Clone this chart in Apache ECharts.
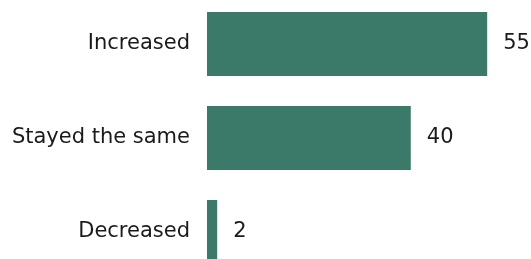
<!DOCTYPE html>
<html>
<head>
<meta charset="utf-8">
<script src="https://cdn.jsdelivr.net/npm/echarts@6/dist/echarts.min.js"></script>
<style>
  html, body { margin: 0; padding: 0; background: #fff; }
  #chart { width: 531px; height: 259px; }
</style>
</head>
<body>
<div id="chart"></div>
<script>
const categories = ['Increased', 'Stayed the same', 'Decreased']
const values = [55, 40, 2]

const chart = echarts.init(document.getElementById('chart'))
chart.setOption({
  animation: false,
  textStyle: { fontFamily: 'DejaVu Sans' },
  grid: {
    left: 207, width: 324, top: -3, height: 282,
    containLabel: false,
    outerBoundsMode: 'none'
  },
  xAxis: {
    type: 'value',
    min: 0,
    max: 63.6,
    show: false
  },
  yAxis: {
    type: 'category',
    data: categories,
    inverse: true,
    axisLine: { show: false },
    axisTick: { show: false },
    axisLabel: { fontSize: 21, color: '#1a1a1a', margin: 17 }
  },
  series: [
    {
      type: 'bar',
      data: values,
      barWidth: 64,
      itemStyle: { color: '#3b7a68' },
      label: {
        show: true,
        position: 'right',
        distance: 16,
        fontSize: 21,
        color: '#1a1a1a'
      }
    }
  ]
})
</script>
</body>
</html>
